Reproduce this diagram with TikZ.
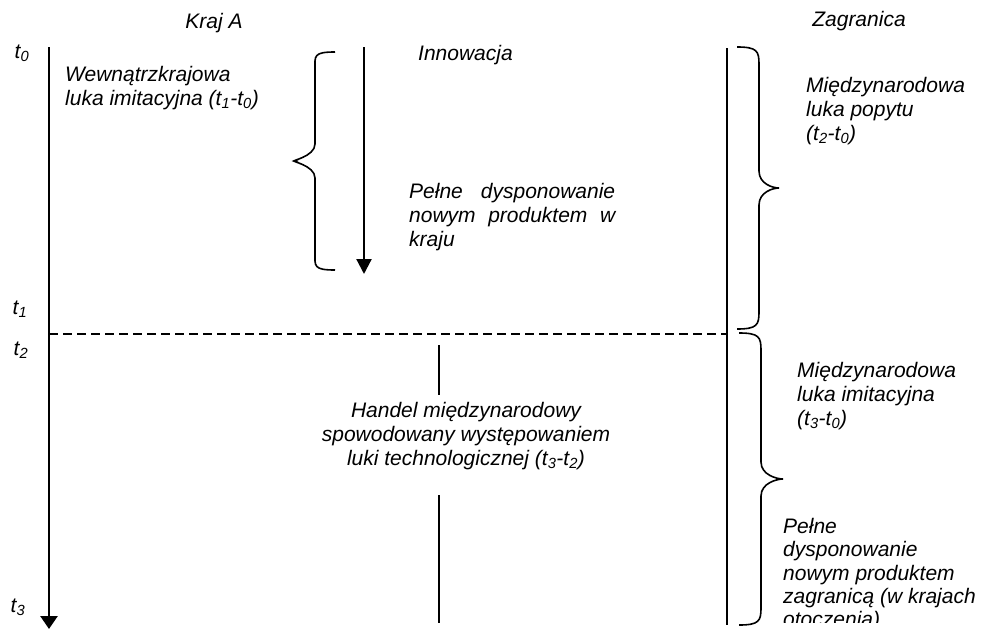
\documentclass[tikz,border=0pt]{standalone}
\usepackage{fontspec}
\setmainfont{Liberation Sans}
\usetikzlibrary{arrows.meta}

% time variable with subscript
\newcommand\tsub[1]{\textit{t}\textsubscript{#1}}

% curly brace drawn along a vertical span: end x, top y, bottom y, stem x, tip x
\newcommand\vbrace[5]{%
  \draw[bracestyle] (#1,#2) .. controls (#4-2,#2) and (#4,#2+4) .. (#4,#2+17)
    -- (#4,{(#2+#3)/2-17}) .. controls (#4,{(#2+#3)/2-4}) and (#5-6,{(#2+#3)/2}) .. (#5,{(#2+#3)/2})
    .. controls (#5-6,{(#2+#3)/2}) and (#4,{(#2+#3)/2+4}) .. (#4,{(#2+#3)/2+17})
    -- (#4,#3-17) .. controls (#4,#3-4) and (#4-2,#3) .. (#1,#3);}

\begin{document}
\begin{tikzpicture}[x=1pt,y=-1pt,
  every node/.style={inner sep=0pt,font=\fontsize{21}{24}\selectfont\itshape},
  label/.style={anchor=north west,align=left},
  axis/.style={line width=2.6pt,-{Triangle[width=17pt,length=13pt]}},
  timeline/.style={line width=1.7pt},
  bracestyle/.style={line width=1.6pt},
  divider/.style={line width=1.4pt,dash pattern=on 9pt off 5pt}]
\useasboundingbox (0,0) rectangle (984,629);

% column headings
\node (krajA) at (214,23) {Kraj A};
\node (zagr) at (859,21) {Zagranica};

% time marks
\node (t0) at (22,53) {\tsub{0}};
\node (t1) at (20,309) {\tsub{1}};
\node (t2) at (21,350) {\tsub{2}};
\node (t3) at (18,607) {\tsub{3}};

% home country time axis
\coordinate (axTop) at (49,47);
\coordinate (axBot) at (49,629);
\draw[axis] (axTop) -- (axBot);

% innovation arrow
\coordinate (innTop) at (364,47);
\coordinate (innBot) at (364,274);
\draw[line width=2.2pt,-{Triangle[width=15pt,length=15pt]}] (innTop) -- (innBot);

% foreign time axis
\coordinate (fTop) at (727,48);
\coordinate (fBot) at (727,625);
\draw[timeline] (fTop) -- (fBot);

% t2 divider
\coordinate (divL) at (49,334);
\coordinate (divR) at (727,334);
\draw[divider] (divL) -- (divR);

% middle line broken by the trade label
\coordinate (mA) at (439,345);
\coordinate (mB) at (439,395);
\coordinate (mC) at (439,495);
\coordinate (mD) at (439,623);
\draw[timeline] (mA) -- (mB);
\draw[timeline] (mC) -- (mD);

% braces
\vbrace{335}{52}{270}{315}{295}
\vbrace{737}{47}{329}{759}{779}
\vbrace{739}{333}{625}{761}{783}

% labels
\node[label] (wew) at (65,66) {Wewnątrzkrajowa\\luka imitacyjna (\tsub{1}-\tsub{0})};
\node[anchor=west] (inn) at (418,55) {Innowacja};
\node[label,text width=206pt] (pelneA) at (409,183)
  {Pełne\hfill dysponowanie\\nowym\hfill produktem\hfill w\\kraju};
\node[label] (popyt) at (806,77) {Międzynarodowa\\luka popytu\\(\tsub{2}-\tsub{0})};
\node[label] (imit) at (797,362) {Międzynarodowa\\luka imitacyjna\\(\tsub{3}-\tsub{0})};
\node[anchor=north,align=center] (handel) at (466,402)
  {Handel międzynarodowy\\spowodowany występowaniem\\luki technologicznej (\tsub{3}-\tsub{2})};
\begin{scope}
  \clip (700,0) rectangle (984,622);
  \node[label,font=\fontsize{21}{23.3}\selectfont\itshape] (pelneB) at (783,518)
    {Pełne\\dysponowanie\\nowym produktem\\zagranicą (w krajach\\otoczenia)};
\end{scope}
\end{tikzpicture}
\end{document}
